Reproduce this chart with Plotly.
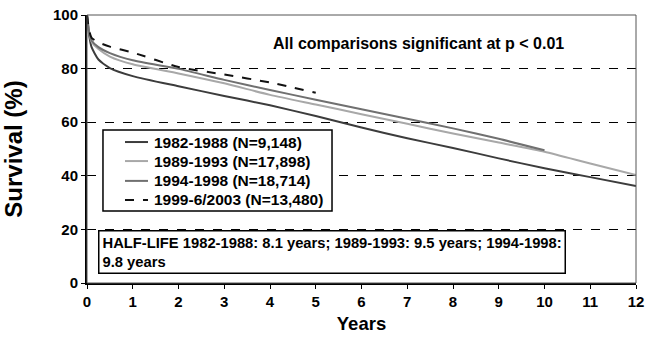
import plotly.graph_objects as go

years_a = [0, 0.05, 0.1, 0.25, 0.5, 1, 2, 3, 4, 5, 6, 7, 8, 9, 10, 11, 12]
surv_1982 = [100, 92, 88, 83.4, 80.2, 77.2, 73.4, 69.8, 66.3, 62.3, 58, 54, 50.4, 46.5, 42.8, 39.5, 36.2]
surv_1989 = [100, 93, 90, 87.3, 84.5, 81.6, 78.2, 74.5, 70.2, 66.6, 63, 59.4, 55.8, 52.4, 49, 44.6, 40.3]
years_b = [0, 0.05, 0.1, 0.25, 0.5, 1, 2, 3, 4, 5, 6, 7, 8, 9, 10]
surv_1994 = [100, 93.5, 90.5, 88, 85.8, 83.1, 79.9, 75.8, 72, 68.4, 64.8, 61.3, 57.7, 53.8, 49.5]
years_c = [0, 0.05, 0.1, 0.25, 0.5, 1, 2, 3, 4, 5]
surv_1999 = [100, 94, 91.5, 89.8, 88.2, 86, 80.6, 77.8, 74.8, 71]

names = ["1982-1988 (N=9,148)", "1989-1993 (N=17,898)", "1994-1998 (N=18,714)", "1999-6/2003 (N=13,480)"]
colors = ["#3c3c3c", "#a8a8a8", "#707070", "#111111"]
dashes = ["solid", "solid", "solid", "dash"]
x_ticks = list(range(0, 13))
y_ticks = [0, 20, 40, 60, 80, 100]

FONT = "Liberation Sans, Arial, sans-serif"

series = [(years_a, surv_1982), (years_a, surv_1989), (years_b, surv_1994), (years_c, surv_1999)]

fig = go.Figure()
for (xs, ys), nm, c, d in zip(series, names, colors, dashes):
    fig.add_trace(go.Scatter(x=xs, y=ys, mode="lines", name=nm, showlegend=False,
                             line=dict(color=c, width=2, dash=d, shape="spline", smoothing=0.6)))

fig.update_layout(
    width=647, height=338,
    margin=dict(l=87, r=11, t=15, b=55, autoexpand=False),
    paper_bgcolor="white", plot_bgcolor="white",
    font=dict(family=FONT, color="black", size=13),
    showlegend=False,
    xaxis=dict(range=[0, 12], tickvals=x_ticks, showgrid=False, zeroline=False,
               showline=True, linecolor="black", linewidth=2,
               ticks="outside", ticklen=4, tickcolor="black", automargin=False,
               ticklabeloverflow="allow",
               tickfont=dict(size=15, weight="bold"),
               title=dict(text="Years", font=dict(size=18.5, weight="bold"), standoff=8)),
    yaxis=dict(range=[0, 100], tickvals=y_ticks, showgrid=True, gridcolor="black",
               gridwidth=1, griddash="dash", zeroline=False,
               showline=True, linecolor="black", linewidth=2,
               ticks="outside", ticklen=4, tickcolor="black", automargin=False,
               ticklabeloverflow="allow",
               tickfont=dict(size=15, weight="bold"),
               title=dict(text="Survival (%)", font=dict(size=24, weight="bold"), standoff=28)),
)

# thin frame on top/right
fig.add_shape(type="rect", xref="paper", yref="paper", x0=0, y0=0, x1=1, y1=1,
              line=dict(color="#555555", width=1), layer="above")

# legend box drawn in paper coordinates
fig.add_shape(type="rect", xref="paper", yref="paper", x0=0.0291, x1=0.4463, y0=0.2687, y1=0.5709,
              line=dict(color="black", width=1.5), fillcolor="white", layer="above")
row_y = [0.526, 0.455, 0.381, 0.310]
for ry, nm, c, d in zip(row_y, names, colors, dashes):
    fig.add_shape(type="line", xref="paper", yref="paper", x0=0.0692, x1=0.1111, y0=ry, y1=ry,
                  line=dict(color=c, width=2, dash="dash" if d == "dash" else "solid"), layer="above")
    fig.add_annotation(x=0.1175, y=ry, xref="paper", yref="paper", showarrow=False,
                       xanchor="left", yanchor="middle", text=nm,
                       font=dict(size=15.5, weight="bold"))

fig.add_annotation(x=0.603, y=0.892, xref="paper", yref="paper", showarrow=False,
                   text="All comparisons significant at p < 0.01",
                   font=dict(size=16, weight="bold"), xanchor="center", yanchor="middle")

fig.add_annotation(x=0.02, y=0.034, xref="paper", yref="paper", showarrow=False,
                   xanchor="left", yanchor="bottom", align="left",
                   text="HALF-LIFE 1982-1988: 8.1 years; 1989-1993: 9.5 years; 1994-1998:<br>9.8 years",
                   font=dict(size=14.75, weight="bold"),
                   bordercolor="black", borderwidth=1.5, borderpad=3, bgcolor="white")

# remove the browser's default 8px body margin so the figure fills the window
fig.write_html("out.html", config={"displayModeBar": False},
               post_script="document.body.style.margin='0px';")
